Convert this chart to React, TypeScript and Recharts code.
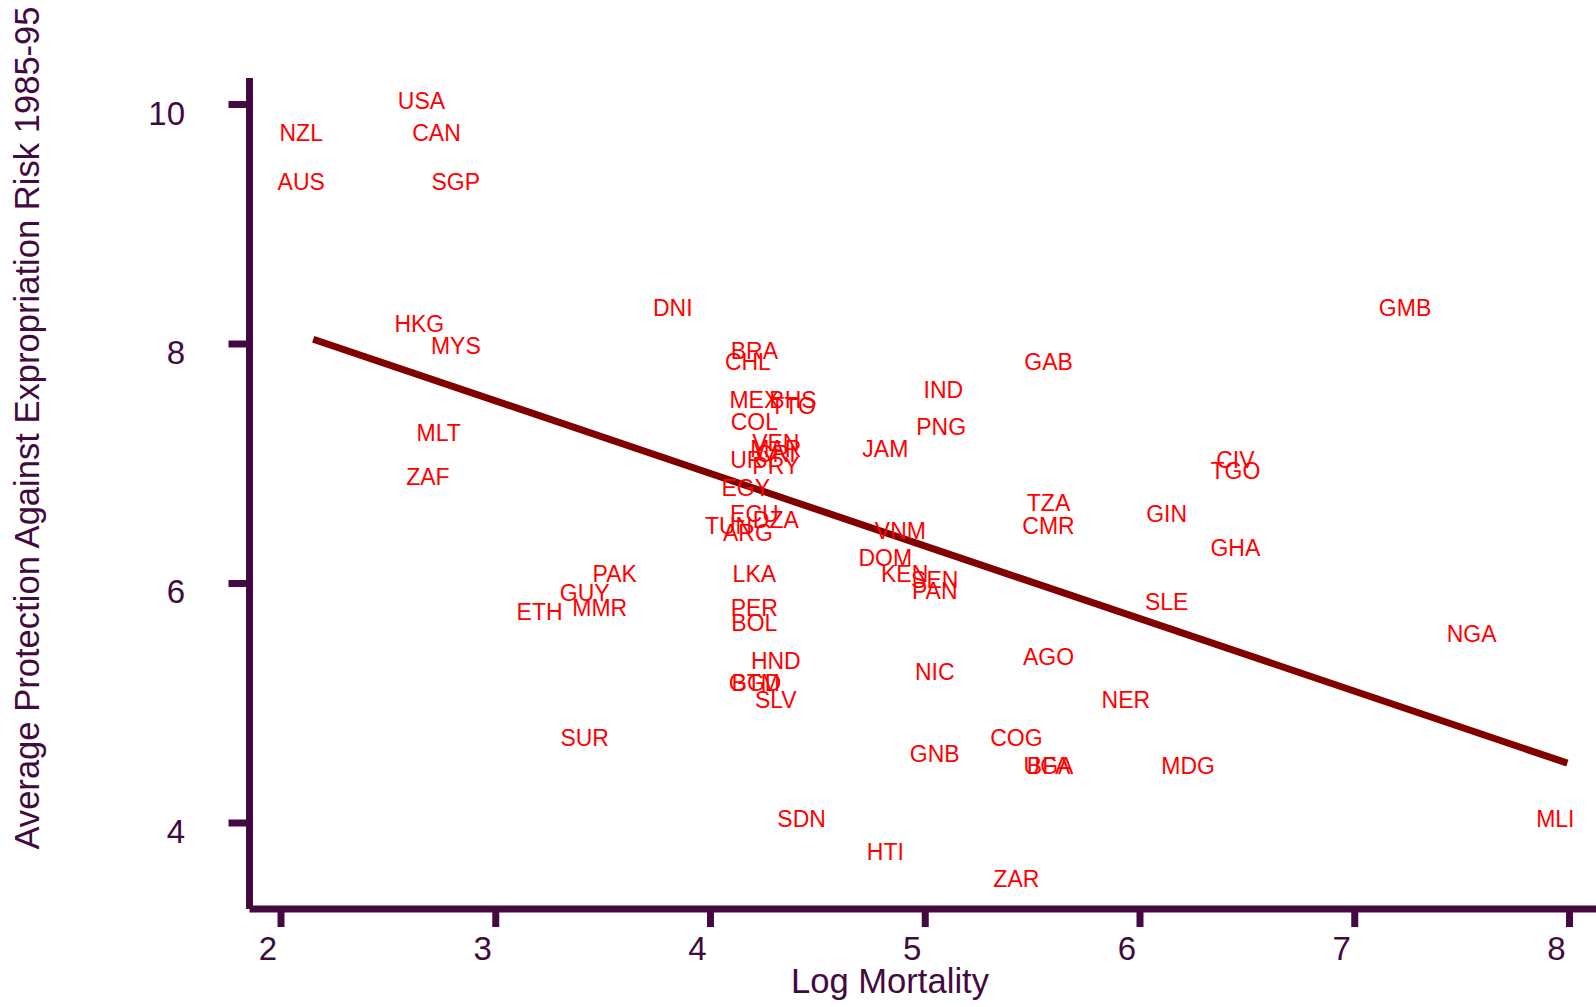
import { ScatterChart, Scatter, XAxis, YAxis } from 'recharts';

// codes, log settler mortality and expropriation risk
const codes = [
  'AGO', 'ARG', 'AUS', 'BFA', 'BGD', 'BHS', 'BOL', 'BRA', 'CAN', 'CHL', 'CIV', 'CMR', 'COG',
  'COL', 'CRI', 'DOM', 'DZA', 'ECU', 'EGY', 'ETH', 'GAB', 'GHA', 'GIN', 'GMB', 'GTM', 'GUY',
  'HKG', 'HND', 'HTI', 'IND', 'DNI', 'JAM', 'KEN', 'LKA', 'MAR', 'MDG', 'MEX', 'MLI', 'MLT',
  'MMR', 'MYS', 'NER', 'NGA', 'NIC', 'NZL', 'PAK', 'PAN', 'PER', 'PRY', 'SDN', 'SEN', 'SGP',
  'SLE', 'SLV', 'SUR', 'TGO', 'TTO', 'TUN', 'TZA', 'UGA', 'URY', 'USA', 'VEN', 'VNM', 'ZAF', 'ZAR',
  'GNB', 'PNG',
];
const logMortality = [
  5.63, 4.23, 2.15, 5.63, 4.27, 4.44, 4.26, 4.26, 2.78, 4.23, 6.50, 5.63, 5.48,
  4.26, 4.36, 4.87, 4.36, 4.26, 4.22, 3.26, 5.63, 6.50, 6.18, 7.29, 4.26, 3.47,
  2.70, 4.36, 4.87, 5.14, 3.88, 4.87, 4.96, 4.26, 4.36, 6.28, 4.26, 7.99, 2.79,
  3.54, 2.87, 5.99, 7.60, 5.10, 2.15, 3.61, 5.10, 4.26, 4.36, 4.48, 5.10, 2.87,
  6.18, 4.36, 3.47, 6.50, 4.44, 4.14, 5.63, 5.63, 4.26, 2.71, 4.36, 4.94, 2.74, 5.48,
  5.10, 5.13,
];
const expropRisk = [
  5.36, 6.39, 9.32, 4.45, 5.14, 7.50, 5.64, 7.91, 9.73, 7.82, 7.00, 6.45, 4.68,
  7.32, 7.05, 6.18, 6.50, 6.55, 6.77, 5.73, 7.82, 6.27, 6.55, 8.27, 5.14, 5.89,
  8.14, 5.32, 3.73, 7.59, 8.27, 7.09, 6.05, 6.05, 7.09, 4.45, 7.50, 4.00, 7.23,
  5.77, 7.95, 5.00, 5.55, 5.23, 9.73, 6.05, 5.91, 5.77, 6.95, 4.00, 6.00, 9.32,
  5.82, 5.00, 4.68, 6.91, 7.45, 6.45, 6.64, 4.45, 7.00, 10.00, 7.14, 6.41, 6.86, 3.50,
  4.55, 7.28,
];

// fitted line end points
const fitX = [2.15, 7.99];
const fitY = [8.04, 4.50];

const xTicks = [2, 3, 4, 5, 6, 7, 8];
const yTicks = [4, 6, 8, 10];

const points = codes.map((code, i) => ({ code, x: logMortality[i], y: expropRisk[i] }));
const fitLine = fitX.map((x, i) => ({ x, y: fitY[i] }));

const AXIS = '#420a40';
const FONT = '"Liberation Sans", Arial, sans-serif';

const CountryLabel = (props: any) => {
  const { cx, cy, payload } = props;
  return (
    <text x={cx - 12} y={cy + 4.5} textAnchor="middle" fill="#ff0000" fontSize={23} fontFamily={FONT}>
      {payload.code}
    </text>
  );
};

const XTick = (props: any) => (
  <text x={props.payload.coordinate - 13} y={960} textAnchor="middle" fill={AXIS} fontSize={33} fontFamily={FONT}>
    {props.payload.value}
  </text>
);

const YTick = (props: any) => (
  <text x={185} y={props.payload.coordinate + 20} textAnchor="end" fill={AXIS} fontSize={33} fontFamily={FONT}>
    {props.payload.value}
  </text>
);

export default function App() {
  return (
    <div style={{ position: 'absolute', left: 0, top: 0, background: '#fff' }}>
      <ScatterChart width={1596} height={1007} margin={{ top: 78, right: 0, bottom: 0, left: 0 }}>
        <XAxis
          type="number"
          dataKey="x"
          domain={[1.8533, 8.1234]}
          ticks={xTicks}
          height={98}
          axisLine={{ stroke: AXIS, strokeWidth: 7 }}
          tickLine={{ stroke: AXIS, strokeWidth: 7 }}
          tickSize={18}
          tick={XTick}
          allowDataOverflow
        />
        <YAxis
          type="number"
          dataKey="y"
          domain={[3.2818, 10.2213]}
          ticks={yTicks}
          width={249.5}
          axisLine={{ stroke: AXIS, strokeWidth: 7 }}
          tickLine={{ stroke: AXIS, strokeWidth: 7 }}
          tickSize={21}
          tick={YTick}
          allowDataOverflow
        />
        <Scatter
          data={fitLine}
          line={{ stroke: '#800000', strokeWidth: 7 }}
          shape={() => <g />}
          isAnimationActive={false}
        />
        <Scatter data={points} shape={CountryLabel} isAnimationActive={false} />
        <text x={890} y={993} textAnchor="middle" fill={AXIS} fontSize={34.6} fontFamily={FONT}>
          Log Mortality
        </text>
        <text
          x={39}
          y={428}
          textAnchor="middle"
          fill={AXIS}
          fontSize={34.6}
          fontFamily={FONT}
          transform="rotate(-90 39 428)"
        >
          Average Protection Against Expropriation Risk 1985-95
        </text>
      </ScatterChart>
    </div>
  );
}
